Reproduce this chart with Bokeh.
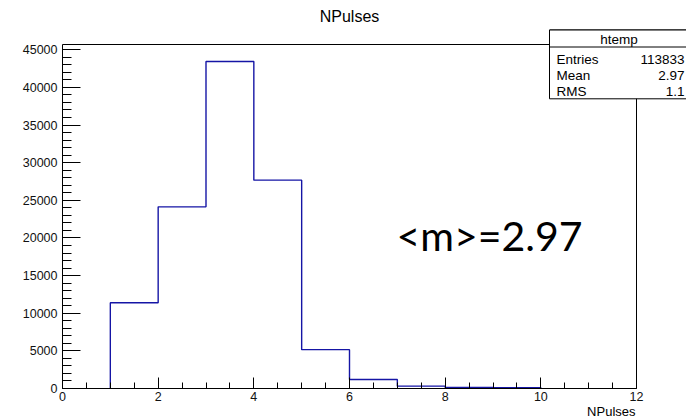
import numpy as np
from bokeh.plotting import figure
from bokeh.models import Range1d, FixedTicker, Label, BoxAnnotation
from bokeh.embed import file_html
from bokeh.resources import INLINE

# ---- data ----
bin_low = [1, 2, 3, 4, 5, 6, 7, 8, 9]          # left edges of the filled bins (width 1)
counts = [11390, 24130, 43440, 27680, 5160, 1200, 310, 130, 120]
x_ticks = [0, 2, 4, 6, 8, 10, 12]
y_ticks = [0, 5000, 10000, 15000, 20000, 25000, 30000, 35000, 40000, 45000]
title_text = "NPulses"
x_title = "NPulses"
stats_name = "htemp"
stats_labels = ["Entries", "Mean", "RMS"]
stats_values = ["113833", "2.97", "1.1"]
note_text = "<m>=2.97"

# ---- geometry (pixel frame of the ROOT pad inside the 686x419 canvas) ----
W, H = 686, 419
FL, FR, FT, FB = 62, 636, 44, 388      # ROOT frame edges in pixels
X0, X1 = 0, 12
Y0, Y1 = 0, 45700
sx = (FR - FL) / (X1 - X0)
sy = (FB - FT) / (Y1 - Y0)


def dx(px):
    return X0 + (px - FL) / sx


def dy(py):
    return Y0 + (FB - py) / sy


FONT = "Liberation Sans"

p = figure(width=W, height=H, output_backend="svg", toolbar_location=None,
           x_range=Range1d(dx(0), dx(W)), y_range=Range1d(dy(H), dy(0)),
           min_border_left=0, min_border_right=0, min_border_top=0, min_border_bottom=0)
p.background_fill_color = "white"
p.border_fill_color = "white"
p.outline_line_color = None
p.grid.visible = False

# ROOT frame top and right edges
p.segment(x0=[X0, X1], y0=[Y1, Y0], x1=[X1, X1], y1=[Y1, Y1], line_color="black", line_width=1)

# histogram outline
xs = np.concatenate([[bin_low[0]], bin_low, [bin_low[-1] + 1]])
ys = np.concatenate([[0], counts, [0]])
p.step(xs, ys, mode="after", line_color="#1515a5", line_width=1.4)

# axes, placed at the data origin inside the plotting area
p.xaxis.fixed_location = Y0
p.yaxis.fixed_location = X0
p.xaxis.bounds = (X0, X1)
p.yaxis.bounds = (Y0, Y1)
p.xaxis.ticker = FixedTicker(ticks=x_ticks, minor_ticks=list(np.arange(X0, X1 + 0.01, 0.5)))
p.yaxis.ticker = FixedTicker(ticks=y_ticks, minor_ticks=list(range(0, 46000, 1000)))
for ax in (p.xaxis[0], p.yaxis[0]):
    ax.axis_line_color = "black"
    ax.major_tick_line_color = "black"
    ax.minor_tick_line_color = "black"
    ax.major_tick_out = 0
    ax.minor_tick_out = 0
    ax.major_label_text_font = FONT
    ax.major_label_text_font_size = "12.5px"
    ax.major_label_text_color = "#111111"
p.xaxis.major_tick_in = 11
p.xaxis.minor_tick_in = 6
p.xaxis.major_label_standoff = 3
p.yaxis.major_tick_in = 18
p.yaxis.minor_tick_in = 9
p.yaxis.major_label_standoff = 5

# title and axis title
p.add_layout(Label(x=dx(349), y=dy(16), text=title_text, text_font=FONT,
                   text_font_size="16px", text_align="center", text_baseline="middle",
                   text_color="black"))
p.add_layout(Label(x=dx(635), y=dy(411), text=x_title, text_font=FONT,
                   text_font_size="13px", text_align="right", text_baseline="middle",
                   text_color="black"))

# big annotation
p.add_layout(Label(x=dx(489), y=dy(235), text=note_text, text_font="Lato",
                   text_font_size="41px", text_align="center", text_baseline="alphabetic",
                   text_color="black"))

# stats box
box_l, box_r, box_t, box_sep, box_b = 549, 688, 29.5, 46.5, 98.3
p.add_layout(BoxAnnotation(left=dx(box_l), right=dx(box_r), top=dy(box_t), bottom=dy(box_b),
                           fill_color="white", fill_alpha=1.0, line_color="black",
                           line_width=1, line_alpha=1.0, level="overlay"))
p.add_layout(BoxAnnotation(left=dx(box_l), right=dx(box_r), top=dy(box_t), bottom=dy(box_sep),
                           fill_color="white", fill_alpha=1.0, line_color="black",
                           line_width=1, line_alpha=1.0, level="overlay"))
p.add_layout(Label(x=dx(618.5), y=dy(38.5), text=stats_name, text_font=FONT,
                   text_font_size="13.5px", text_align="center", text_baseline="middle",
                   text_color="black", level="overlay"))
row_y = [58.5, 74.5, 90.5]
for name, val, ry in zip(stats_labels, stats_values, row_y):
    p.add_layout(Label(x=dx(556), y=dy(ry), text=name, text_font=FONT,
                       text_font_size="13.5px", text_align="left", text_baseline="middle",
                       text_color="black", level="overlay"))
    p.add_layout(Label(x=dx(684), y=dy(ry), text=val, text_font=FONT,
                       text_font_size="13.5px", text_align="right", text_baseline="middle",
                       text_color="black", level="overlay"))

open("out.html", "w").write(file_html(p, INLINE))
